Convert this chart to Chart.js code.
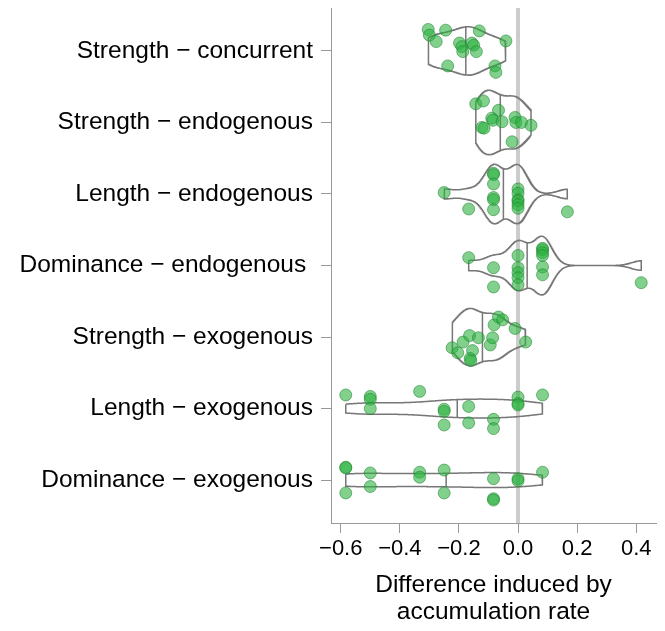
<!DOCTYPE html>
<html>
<head>
<meta charset="utf-8">
<script src="https://cdn.jsdelivr.net/npm/chart.js@4.4.0/dist/chart.umd.min.js"></script>
<style>
html, body { margin: 0; padding: 0; background: #fff; }
#wrap { width: 665px; height: 631px; }
</style>
</head>
<body>
<div id="wrap"><canvas id="myChart" width="665" height="631"></canvas></div>
<script>
// categories, top to bottom
const categories = [
    'Strength − concurrent',
    'Strength − endogenous',
    'Length − endogenous',
    'Dominance − endogenous ',
    'Strength − exogenous',
    'Length − exogenous',
    'Dominance − exogenous'
];

// differences (one array per category)
const strengthConcurrent = [-0.304, -0.300, -0.277, -0.245, -0.131, -0.041, -0.198, -0.190, -0.187, -0.156, -0.150, -0.141, -0.238, -0.078, -0.075];
const strengthEndogenous = [-0.143, -0.117, -0.066, -0.089, -0.085, -0.054, -0.122, -0.115, -0.010, -0.007, 0.012, 0.044, -0.020];
const lengthEndogenous = [-0.250, -0.167, -0.083, -0.083, -0.083, -0.083, -0.083, -0.083, 0, 0, 0, 0, 0, 0, 0.167];
const dominanceEndogenous = [-0.167, -0.083, -0.083, 0, 0, 0, 0, 0, 0.083, 0.083, 0.083, 0.083, 0.083, 0.083, 0.417];
const strengthExogenous = [-0.223, -0.204, -0.186, -0.164, -0.134, -0.154, -0.162, -0.160, -0.094, -0.086, -0.081, -0.066, -0.052, -0.010, 0.026];
const lengthExogenous = [-0.583, -0.5, -0.5, -0.5, -0.333, -0.25, -0.25, -0.25, -0.167, -0.167, -0.083, -0.083, 0, 0, 0, 0.083];
const dominanceExogenous = [-0.583, -0.583, -0.583, -0.5, -0.5, -0.333, -0.333, -0.25, -0.25, -0.083, -0.083, -0.083, 0, 0, 0.083];

// vertical jitter of each point (category units)
const strengthConcurrentJitter = [-0.30, -0.22, -0.13, -0.29, -0.28, -0.14, -0.11, -0.06, 0.01, -0.11, -0.08, 0.01, 0.21, 0.21, 0.30];
const strengthEndogenousJitter = [-0.26, -0.30, -0.17, -0.06, -0.03, -0.01, 0.07, 0.08, -0.07, 0.00, 0.00, 0.04, 0.27];
const lengthEndogenousJitter = [-0.02, 0.21, -0.29, -0.27, -0.14, 0.05, 0.08, 0.22, -0.07, -0.01, 0.08, 0.10, 0.15, 0.20, 0.25];
const dominanceEndogenousJitter = [-0.11, 0.03, 0.30, -0.14, 0.03, 0.10, 0.17, 0.27, -0.24, -0.22, -0.18, -0.14, 0.02, 0.13, 0.24];
const strengthExogenousJitter = [0.15, 0.22, 0.07, -0.02, 0.01, 0.19, 0.30, 0.33, 0.11, 0.01, -0.17, -0.28, -0.24, -0.12, 0.07];
const lengthExogenousJitter = [-0.19, -0.17, -0.13, 0.00, -0.24, 0.01, 0.04, 0.23, -0.03, 0.20, 0.15, 0.28, -0.16, -0.07, -0.05, -0.19];
const dominanceExogenousJitter = [-0.18, -0.17, 0.18, -0.10, 0.09, -0.11, -0.04, -0.14, 0.18, -0.02, 0.26, 0.28, -0.02, 0.01, -0.11];

const xTickValues = [-0.6, -0.4, -0.2, 0.0, 0.2, 0.4];
const xTickLabels = ['−0.6', '−0.4', '−0.2', '0.0', '0.2', '0.4'];

const groups = [strengthConcurrent, strengthEndogenous, lengthEndogenous, dominanceEndogenous, strengthExogenous, lengthExogenous, dominanceExogenous];
const jitters = [strengthConcurrentJitter, strengthEndogenousJitter, lengthEndogenousJitter, dominanceEndogenousJitter, strengthExogenousJitter, lengthExogenousJitter, dominanceExogenousJitter];

// bandwidth like R's bw.nrd0
function bwNrd0(v) {
    const n = v.length;
    const mean = v.reduce((a, b) => a + b, 0) / n;
    const sd = Math.sqrt(v.reduce((a, b) => a + (b - mean) ** 2, 0) / (n - 1));
    const s = v.slice().sort((a, b) => a - b);
    const q = p => {
        const h = (n - 1) * p, lo = Math.floor(h);
        return s[lo] + (h - lo) * (s[Math.min(lo + 1, n - 1)] - s[lo]);
    };
    let lo = Math.min(sd, (q(0.75) - q(0.25)) / 1.34);
    if (!lo) lo = sd || 1;
    return 0.9 * lo * Math.pow(n, -0.2);
}

// gaussian kde trimmed to the data range
function density(v) {
    const bw = bwNrd0(v);
    const min = Math.min(...v), max = Math.max(...v);
    const xs = [], ds = [];
    for (let i = 0; i < 512; i++) {
        const x = min + (max - min) * i / 511;
        let d = 0;
        v.forEach(t => { const z = (x - t) / bw; d += Math.exp(-0.5 * z * z); });
        xs.push(x);
        ds.push(d / (v.length * bw * Math.sqrt(2 * Math.PI)));
    }
    return { xs, ds };
}

const dens = groups.map(density);
const maxD = Math.max(...dens.map(d => Math.max(...d.ds)));

const datasets = [];

// points
groups.forEach((g, i) => {
    datasets.push({
        data: g.map((v, k) => ({ x: v, y: i + jitters[i][k] })),
        backgroundColor: 'rgba(45,178,65,0.6)',
        borderColor: 'rgba(30,130,45,0.55)',
        borderWidth: 1,
        pointRadius: 6,
        showLine: false,
        order: 0
    });
});

// violins + median
dens.forEach((d, i) => {
    const hw = d.ds.map(v => 0.45 * v / maxD);
    const upper = d.xs.map((x, k) => ({ x: x, y: i - hw[k] }));
    const lower = d.xs.map((x, k) => ({ x: x, y: i + hw[k] })).reverse();
    const outline = upper.concat(lower, [upper[0]]);
    datasets.push({
        data: outline,
        showLine: true,
        borderColor: '#777777',
        borderWidth: 1.5,
        pointRadius: 0,
        fill: false,
        order: 1
    });
    // median from the density, like draw_quantiles
    const total = d.ds.reduce((a, b) => a + b, 0);
    let cum = 0, m = d.xs[0], mh = hw[0];
    for (let k = 0; k < d.ds.length; k++) {
        const prev = cum;
        cum += d.ds[k] / total;
        if (cum >= 0.5) {
            if (k === 0) { m = d.xs[0]; mh = hw[0]; break; }
            const f = (0.5 - prev) / (cum - prev);
            m = d.xs[k - 1] + f * (d.xs[k] - d.xs[k - 1]);
            mh = hw[k - 1] + f * (hw[k] - hw[k - 1]);
            break;
        }
    }
    datasets.push({
        data: [{ x: m, y: i - mh }, { x: m, y: i + mh }],
        showLine: true,
        borderColor: '#777777',
        borderWidth: 1.5,
        pointRadius: 0,
        fill: false,
        order: 1
    });
});

// zero reference line
datasets.push({
    data: [{ x: 0, y: -0.6 }, { x: 0, y: 6.6 }],
    showLine: true,
    borderColor: '#cccccc',
    borderWidth: 4,
    pointRadius: 0,
    fill: false,
    order: 2
});

Chart.defaults.font.family = '"Liberation Sans", Arial, Helvetica, sans-serif';
Chart.defaults.color = '#000';

const ctx = document.getElementById('myChart').getContext('2d');
new Chart(ctx, {
    type: 'scatter',
    data: { datasets: datasets },
    options: {
        responsive: false,
        animation: false,
        devicePixelRatio: 1,
        layout: { padding: { top: 8, right: 9, left: 0, bottom: 0 } },
        plugins: { legend: { display: false }, tooltip: { enabled: false } },
        scales: {
            x: {
                type: 'linear',
                min: -0.633,
                max: 0.467,
                afterBuildTicks: s => { s.ticks = xTickValues.map(v => ({ value: v })); },
                afterFit: s => { s.height = 108; s.paddingLeft = 0; s.paddingRight = 0; },
                ticks: {
                    callback: (v, i) => xTickLabels[i],
                    font: { size: 22 },
                    color: '#000',
                    padding: 3,
                    maxRotation: 0
                },
                grid: { drawOnChartArea: false, tickLength: 10, color: '#999999' },
                border: { color: '#999999', width: 1 },
                title: {
                    display: true,
                    text: ['Difference induced by', 'accumulation rate'],
                    font: { size: 24.5, lineHeight: 1.12 },
                    color: '#000',
                    padding: { top: 4, bottom: 5 }
                }
            },
            y: {
                type: 'linear',
                min: -0.6,
                max: 6.6,
                reverse: true,
                afterBuildTicks: s => { s.ticks = categories.map((c, i) => ({ value: i })); },
                afterFit: s => { s.width = 331; s.paddingTop = 0; s.paddingBottom = 0; },
                ticks: {
                    callback: (v, i) => categories[i],
                    font: { size: 24.5 },
                    color: '#000',
                    padding: 8
                },
                grid: { drawOnChartArea: false, tickLength: 10, color: '#999999' },
                border: { color: '#999999', width: 1 }
            }
        }
    }
});
</script>
</body>
</html>
